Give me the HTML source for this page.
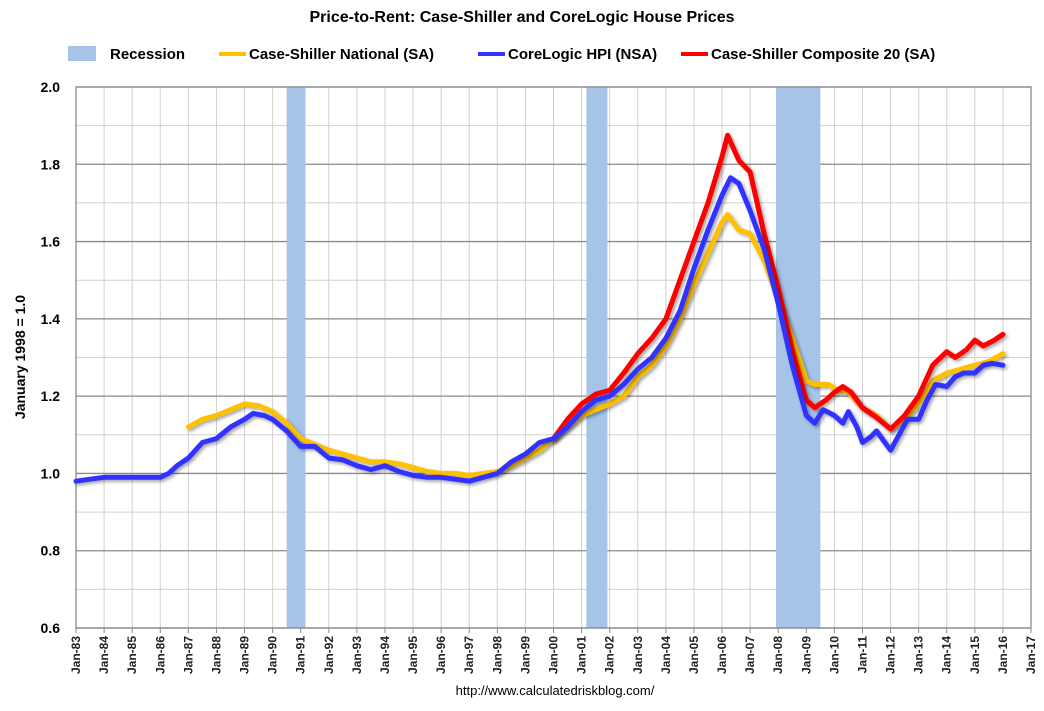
<!DOCTYPE html>
<html><head><meta charset="utf-8"><style>
body{margin:0;background:#fff;font-family:"Liberation Sans",Arial,sans-serif}
svg text{font-family:"Liberation Sans",Arial,sans-serif}
</style></head><body>
<svg id="chart" width="1044" height="706" xmlns="http://www.w3.org/2000/svg">
<defs><filter id="sh" x="-5%" y="-5%" width="110%" height="110%"><feDropShadow dx="2" dy="2" stdDeviation="1.5" flood-color="#000" flood-opacity="0.35"/></filter></defs>
<text x="522" y="22" text-anchor="middle" font-size="16" font-weight="bold" fill="#000">Price-to-Rent: Case-Shiller and CoreLogic House Prices</text>
<g id="legend"></g>
<g id="grid"></g><g id="rec"></g><g id="axes"></g><g id="series"></g>
<text transform="translate(25,357) rotate(-90)" text-anchor="middle" font-size="14" font-weight="bold">January 1998 = 1.0</text>
<text x="555" y="695" text-anchor="middle" font-size="13">http://www.calculatedriskblog.com/</text>
</svg>
<script>
const recStart=[1990.5,2001.17,2007.92];
const recEnd=[1991.17,2001.92,2009.5];
const yTicks=[0.6,0.8,1.0,1.2,1.4,1.6,1.8,2.0];
const xYears=[];for(let y=1983;y<=2017;y++)xYears.push(y);
const clDates=[1983,1983.5,1984,1984.5,1985,1985.5,1986,1986.3,1986.6,1987,1987.5,1988,1988.5,1989,1989.3,1989.7,1990,1990.5,1991,1991.5,1992,1992.5,1993,1993.5,1994,1994.5,1995,1995.5,1996,1996.5,1997,1997.5,1998,1998.5,1999,1999.5,2000,2000.5,2001,2001.5,2002,2002.5,2003,2003.5,2004,2004.5,2005,2005.5,2006,2006.3,2006.6,2007,2007.5,2008,2008.5,2009,2009.3,2009.6,2010,2010.3,2010.5,2010.8,2011,2011.3,2011.5,2011.8,2012,2012.3,2012.6,2013,2013.3,2013.6,2014,2014.3,2014.6,2015,2015.3,2015.6,2016];
const clVals=[0.98,0.985,0.99,0.99,0.99,0.99,0.99,1.0,1.02,1.04,1.08,1.09,1.12,1.14,1.155,1.15,1.14,1.11,1.07,1.07,1.04,1.035,1.02,1.01,1.02,1.005,0.995,0.99,0.99,0.985,0.98,0.99,1.0,1.03,1.05,1.08,1.09,1.12,1.16,1.19,1.20,1.23,1.27,1.30,1.35,1.42,1.53,1.63,1.72,1.765,1.75,1.68,1.58,1.44,1.28,1.15,1.13,1.165,1.15,1.13,1.16,1.12,1.08,1.095,1.11,1.08,1.06,1.10,1.14,1.14,1.19,1.23,1.225,1.25,1.26,1.26,1.28,1.285,1.28];
const csDates=[1987,1987.5,1988,1988.5,1989,1989.5,1990,1990.5,1991,1991.5,1992,1992.5,1993,1993.5,1994,1994.5,1995,1995.5,1996,1996.5,1997,1997.5,1998,1998.5,1999,1999.5,2000,2000.5,2001,2001.5,2002,2002.5,2003,2003.5,2004,2004.5,2005,2005.5,2006,2006.2,2006.6,2007,2007.5,2008,2008.5,2009,2009.3,2009.8,2010,2010.5,2011,2011.5,2012,2012.5,2013,2013.5,2014,2014.5,2015,2015.5,2016];
const csVals=[1.12,1.14,1.15,1.165,1.18,1.175,1.16,1.13,1.09,1.075,1.06,1.05,1.04,1.03,1.03,1.025,1.015,1.005,1.0,1.0,0.995,1.0,1.005,1.02,1.04,1.06,1.09,1.12,1.15,1.165,1.18,1.20,1.25,1.28,1.33,1.40,1.49,1.57,1.65,1.67,1.63,1.62,1.55,1.45,1.35,1.24,1.23,1.23,1.22,1.21,1.17,1.15,1.115,1.14,1.18,1.24,1.26,1.27,1.28,1.29,1.31];
const c20Dates=[2000,2000.5,2001,2001.5,2002,2002.5,2003,2003.5,2004,2004.5,2005,2005.5,2006,2006.2,2006.6,2007,2007.5,2008,2008.5,2009,2009.3,2009.7,2010,2010.3,2010.6,2011,2011.5,2012,2012.5,2013,2013.5,2014,2014.3,2014.7,2015,2015.3,2015.7,2016];
const c20Vals=[1.09,1.14,1.18,1.205,1.215,1.26,1.31,1.35,1.40,1.50,1.60,1.70,1.82,1.875,1.81,1.78,1.62,1.48,1.32,1.19,1.17,1.19,1.21,1.225,1.21,1.17,1.145,1.115,1.15,1.20,1.28,1.315,1.30,1.32,1.345,1.33,1.345,1.36];
const NS="http://www.w3.org/2000/svg";
const L=76,R=1031,T=87,B=628;
const x=y=>L+(y-1983)*(R-L)/34;
const yv=v=>B-(v-0.6)*(B-T)/1.4;
function mk(tag,a,p){const e=document.createElementNS(NS,tag);for(const k in a)e.setAttribute(k,a[k]);p.appendChild(e);return e;}
const grid=document.getElementById('grid'),rec=document.getElementById('rec'),axes=document.getElementById('axes'),ser=document.getElementById('series'),leg=document.getElementById('legend');
for(let v=0.7;v<2.0;v+=0.2){const g=mk('line',{x1:L,x2:R,y1:yv(v),y2:yv(v),stroke:'#d0d0d0','stroke-width':1},grid);}
xYears.forEach(yr=>{const g=mk('line',{x1:x(yr),x2:x(yr),y1:T,y2:B,stroke:'#d0d0d0','stroke-width':1},grid);
const t=mk('text',{transform:`translate(${x(yr)+4},${B+8}) rotate(-90)`,'text-anchor':'end','font-size':12,'font-weight':'bold',fill:'#222'},axes);t.textContent='Jan-'+String(yr%100).padStart(2,'0');
mk('line',{x1:x(yr),x2:x(yr),y1:B,y2:B+5,stroke:'#888'},axes);});
yTicks.forEach(v=>{const g=mk('line',{x1:L,x2:R,y1:yv(v),y2:yv(v),stroke:'#8a8a8a','stroke-width':1.3},grid);
const t=mk('text',{x:L-16,y:yv(v)+5,'text-anchor':'end','font-size':14,'font-weight':'bold'},axes);t.textContent=v.toFixed(1);});
mk('rect',{x:L,y:T,width:R-L,height:B-T,fill:'none',stroke:'#8a8a8a','stroke-width':1.3},axes);
recStart.forEach((s,i)=>{const r=mk('rect',{x:x(s),y:T,width:x(recEnd[i])-x(s),height:B-T,fill:'#a6c4e8'},rec);});
function line(d,v,c,name){const pts=d.map((t,i)=>x(t).toFixed(1)+','+yv(v[i]).toFixed(1)).join(' ');const p=mk('polyline',{points:pts,fill:'none',stroke:c,'stroke-width':5,'stroke-linejoin':'round','stroke-linecap':'round',filter:'url(#sh)'},ser);}
line(csDates,csVals,'#ffc000','case-shiller-national-line');
line(c20Dates,c20Vals,'#ff0000','case-shiller-composite20-line');
line(clDates,clVals,'#3333ff','corelogic-hpi-line');
// legend
const items=[['Recession','#a6c4e8',true,98],['Case-Shiller National (SA)','#ffc000',false,219],['CoreLogic HPI (NSA)','#3333ff',false,478],['Case-Shiller Composite 20 (SA)','#ff0000',false,681]];
items.forEach(it=>{const g=mk('g',{},leg);
if(it[2])mk('rect',{x:it[3]-30,y:46,width:28,height:15,fill:it[1]},g);else mk('line',{x1:it[3],x2:it[3]+27,y1:54,y2:54,stroke:it[1],'stroke-width':4},g);
const t=mk('text',{x:it[2]?it[3]+12:it[3]+30,y:59,'font-size':15,'font-weight':'bold'},g);t.textContent=it[0];});
</script>
</body></html>
